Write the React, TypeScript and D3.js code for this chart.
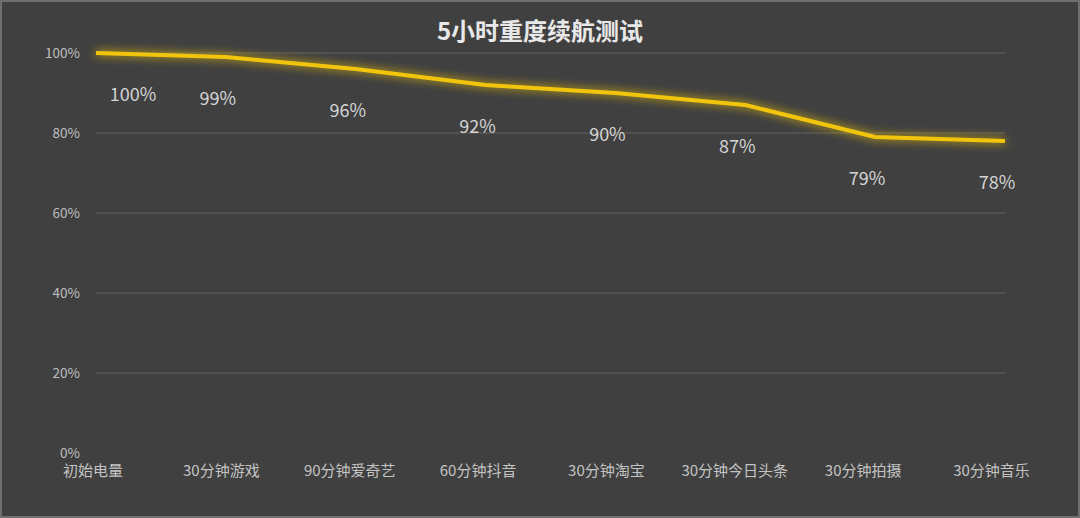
import React, { useEffect, useRef } from 'react'
import * as d3 from 'd3'

const categories = ['初始电量', '30分钟游戏', '90分钟爱奇艺', '60分钟抖音', '30分钟淘宝', '30分钟今日头条', '30分钟拍摄', '30分钟音乐']
const battery = [100, 99, 96, 92, 90, 87, 79, 78]
const yTicks = [0, 20, 40, 60, 80, 100]
const title = '5小时重度续航测试'

const W = 1080
const H = 518
const FONT = '"Noto Sans CJK SC", "Noto Sans", sans-serif'

export default function App() {
  const svgRef = useRef<SVGSVGElement>(null)

  useEffect(() => {
    if (!svgRef.current) return
    const svg = d3.select(svgRef.current)
    svg.selectAll('*').remove()

    const margin = { top: 53, right: 75, bottom: 65, left: 96 }
    const innerW = W - margin.left - margin.right
    const innerH = H - margin.top - margin.bottom

    // background + frame
    svg.append('rect').attr('width', W).attr('height', H).attr('fill', '#404040')
    svg.append('rect')
      .attr('x', 1).attr('y', 1).attr('width', W - 2).attr('height', H - 2)
      .attr('fill', 'none').attr('stroke', '#707070').attr('stroke-width', 2)

    // glow filter
    const defs = svg.append('defs')
    const f = defs.append('filter').attr('id', 'glow')
      .attr('x', '-10%').attr('y', '-50%').attr('width', '120%').attr('height', '200%')
    f.append('feGaussianBlur').attr('in', 'SourceGraphic').attr('stdDeviation', 5).attr('result', 'blur')
    const merge = f.append('feMerge')
    merge.append('feMergeNode').attr('in', 'blur')
    merge.append('feMergeNode').attr('in', 'SourceGraphic')

    svg.append('text')
      .attr('x', W / 2).attr('y', 40)
      .attr('text-anchor', 'middle')
      .style('font-family', FONT).style('font-size', '24px').style('font-weight', 'bold')
      .attr('fill', '#e8e8e8')
      .text(title)

    const g = svg.append('g').attr('transform', `translate(${margin.left},${margin.top})`)

    const x = d3.scalePoint<string>().domain(categories).range([0, innerW])
    const y = d3.scaleLinear().domain([0, 100]).range([innerH, 0])

    // grid lines
    g.selectAll('.grid')
      .data(yTicks.filter(t => t > 0))
      .enter()
      .append('line')
      .attr('x1', 0).attr('x2', innerW)
      .attr('y1', d => y(d)).attr('y2', d => y(d))
      .attr('stroke', '#575757').attr('stroke-width', 1.5)

    // y axis labels
    g.selectAll('.ylab')
      .data(yTicks)
      .enter()
      .append('text')
      .attr('x', -16).attr('y', d => y(d))
      .attr('dy', '0.35em')
      .attr('text-anchor', 'end')
      .style('font-family', FONT).style('font-size', '13.5px')
      .attr('fill', '#bfbfbf')
      .text(d => `${d}%`)

    // x axis labels
    g.selectAll('.xlab')
      .data(categories)
      .enter()
      .append('text')
      .attr('x', (d, i) => x(d)! - 3 - i * 1.5)
      .attr('y', innerH + 18)
      .attr('dy', '0.35em')
      .attr('text-anchor', 'middle')
      .style('font-family', FONT).style('font-size', '15px')
      .attr('fill', '#c4c4c4')
      .text(d => d)

    const pts = categories.map((c, i) => ({ c, v: battery[i] }))
    const line = d3.line<typeof pts[0]>()
      .x(d => x(d.c)!)
      .y(d => y(d.v))

    g.append('path')
      .datum(pts)
      .attr('fill', 'none')
      .attr('stroke', '#f2c511')
      .attr('stroke-width', 4)
      .attr('stroke-linejoin', 'round')
      .attr('filter', 'url(#glow)')
      .attr('d', line)

    // data labels, set just below each point
    g.selectAll('.dlab')
      .data(pts)
      .enter()
      .append('text')
      .attr('x', (d, i) => x(d.c)! + (i === 0 ? 37 : -8))
      .attr('y', d => y(d.v) + 42)
      .attr('dy', '0.35em')
      .attr('text-anchor', 'middle')
      .style('font-family', FONT).style('font-size', '18px')
      .attr('fill', '#d4d4d4')
      .text(d => `${d.v}%`)
  }, [])

  return (
    <svg
      ref={svgRef}
      width={W}
      height={H}
      style={{ position: 'absolute', left: 0, top: 0, display: 'block' }}
    />
  )
}
